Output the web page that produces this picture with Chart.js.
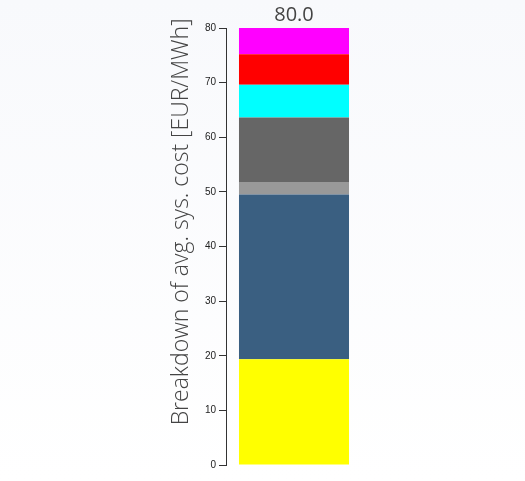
<!DOCTYPE html>
<html>
<head>
<meta charset="utf-8">
<script src="https://cdn.jsdelivr.net/npm/chart.js@4"></script>
<style>
  html, body { margin: 0; padding: 0; }
  body { width: 525px; height: 481px; background: linear-gradient(#f8f9fc, #ffffff); }
  #wrap { width: 525px; height: 481px; }
</style>
</head>
<body>
<div id="wrap"><canvas id="chart"></canvas></div>
<script>
// values (EUR/MWh), stacked bottom -> top
const categories = ["Total"];
const seriesNames = ["Part 1", "Part 2", "Part 3", "Part 4", "Part 5", "Part 6", "Part 7"];
const seriesValues = [19.35, 30.15, 2.3, 11.8, 6.0, 5.6, 4.8];
const seriesColors = ["#ffff00", "#3a5f81", "#999999", "#666666", "#00ffff", "#ff0000", "#ff00ff"];
const yTicks = [0, 10, 20, 30, 40, 50, 60, 70, 80];
const totalLabel = "80.0";
const yTitle = "Breakdown of avg. sys. cost [EUR/MWh]";

// total above the bar, and the y title (not centred on the axis in the original)
const labelsPlugin = {
  id: "labels",
  afterDatasetsDraw(chart) {
    const ctx = chart.ctx;
    const last = chart.getDatasetMeta(seriesValues.length - 1).data[0];
    ctx.save();
    ctx.fillStyle = "#444";
    ctx.font = "20px 'Open Sans'";
    ctx.textAlign = "center";
    ctx.textBaseline = "alphabetic";
    ctx.fillText(totalLabel, last.x, last.y - 7);

    const y = chart.scales.y;
    ctx.translate(y.left + 14, y.getPixelForValue(44.5));
    ctx.rotate(-Math.PI / 2);
    ctx.font = "300 23px 'Open Sans'";
    ctx.textBaseline = "middle";
    ctx.fillText(yTitle, 0, 0);
    ctx.restore();
  },
};

new Chart(document.getElementById("chart"), {
  type: "bar",
  data: {
    labels: categories,
    datasets: seriesValues.map((v, i) => ({
      label: seriesNames[i],
      data: [v],
      backgroundColor: seriesColors[i],
      borderWidth: 0,
      barPercentage: 0.809,
      categoryPercentage: 1,
    })),
  },
  options: {
    responsive: true,
    maintainAspectRatio: false,
    animation: false,
    layout: { padding: { left: 167, right: 163, top: 28, bottom: 16 } },
    plugins: { legend: { display: false }, tooltip: { enabled: false } },
    scales: {
      x: { stacked: true, display: false },
      y: {
        stacked: true,
        min: 0,
        max: 80,
        afterBuildTicks: (axis) => {
          axis.ticks = yTicks.map((v) => ({ value: v }));
        },
        afterFit: (axis) => {
          axis.width = 59;
        },
        border: { display: true, color: "#333", width: 1 },
        grid: { drawOnChartArea: false, tickLength: 7, color: "#333", tickColor: "#333" },
        ticks: { color: "#222", padding: 3, font: { family: "'Liberation Sans'", size: 10 } },
      },
    },
  },
  plugins: [labelsPlugin],
});
</script>
</body>
</html>
